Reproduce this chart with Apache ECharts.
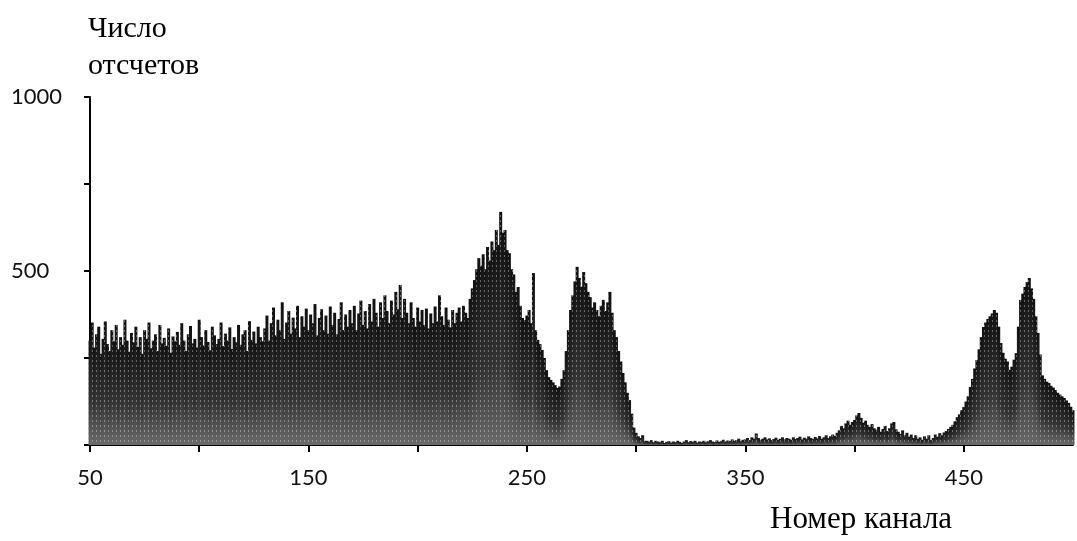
<!DOCTYPE html>
<html>
<head>
<meta charset="utf-8">
<script src="https://cdn.jsdelivr.net/npm/echarts@6/dist/echarts.min.js"></script>
<style>
  html, body { margin: 0; padding: 0; background: #fff; }
  #main { width: 1077px; height: 541px; }
</style>
</head>
<body>
<div id="main"></div>
<script>
// номер первого канала
const CH_START = 50;

// число отсчетов по каналам 50..500 (оценка по рисунку)
const counts = [
  300, 352, 280, 318, 340, 262, 305, 355, 290, 270, 330, 298, 345, 275, 310, 288, 360, 300, 268, 322, // 50
  295, 340, 282, 310, 262, 330, 305, 352, 278, 300, 318, 270, 345, 292, 308, 285, 335, 265, 312, 298, // 70
  325, 288, 350, 300, 270, 318, 342, 292, 305, 280, 360, 310, 286, 330, 296, 272, 340, 315, 290, 305, // 90
  352, 284, 320, 300, 338, 276, 310, 295, 345, 288, 318, 330, 270, 356, 302, 326, 292, 340, 310, 298, // 110
  335, 372, 300, 350, 395, 315, 360, 330, 410, 305, 352, 385, 320, 366, 335, 400, 310, 370, 340, 392, // 130
  330, 375, 350, 405, 315, 365, 390, 330, 372, 320, 398, 345, 380, 318, 362, 410, 330, 375, 340, 388, // 150
  350, 400, 330, 378, 415, 345, 385, 335, 405, 355, 420, 380, 340, 410, 365, 430, 385, 350, 415, 375, // 170
  440, 390, 460, 365, 420, 380, 350, 410, 365, 340, 395, 355, 388, 345, 392, 335, 378, 350, 398, 355, // 190
  430, 370, 345, 395, 360, 338, 388, 350, 380, 395, 355, 400, 380, 365, 420, 450, 474, 505, 537, 515, // 210
  548, 505, 569, 530, 585, 560, 618, 575, 670, 610, 618, 560, 551, 505, 490, 440, 454, 400, 365, 359, // 230
  372, 388, 350, 494, 330, 302, 290, 273, 250, 215, 195, 187, 180, 172, 164, 168, 190, 215, 270, 330, // 250
  388, 430, 470, 512, 480, 455, 497, 465, 440, 425, 395, 410, 388, 370, 400, 417, 385, 410, 440, 380, // 270
  330, 310, 270, 240, 207, 180, 150, 129, 90, 50, 35, 25, 20, 28, 12, 12, 10, 14, 8, 12,              // 290
  10, 8, 12, 6, 9, 11, 7, 10, 8, 12, 9, 6, 10, 14, 8, 11, 9, 12, 7, 10,                              // 310
  9, 12, 8, 11, 14, 10, 8, 13, 9, 12, 15, 10, 13, 11, 16, 12, 14, 18, 12, 15,                        // 330
  16, 20, 14, 22, 18, 33, 20, 15, 18, 22, 16, 19, 14, 17, 21, 15, 18, 22, 16, 20,                    // 350
  18, 15, 22, 17, 20, 24, 16, 21, 18, 25, 20, 17, 23, 19, 26, 18, 22, 28, 20, 25,                    // 370
  30, 26, 35, 42, 55, 48, 62, 70, 58, 66, 72, 85, 92, 78, 64, 70, 58, 52, 60, 48,                    // 390
  44, 52, 38, 46, 55, 40, 48, 62, 66, 45, 38, 32, 42, 28, 35, 24, 30, 20, 28, 18,                    // 410
  22, 15, 25, 18, 28, 14, 20, 30, 24, 34, 28, 36, 40, 46, 52, 58, 68, 80, 88, 100,                   // 430
  109, 125, 140, 167, 190, 220, 244, 275, 310, 339, 352, 362, 370, 378, 388, 380, 340, 293, 265, 248, // 450
  240, 216, 225, 245, 264, 340, 417, 435, 454, 468, 480, 450, 420, 370, 322, 260, 200, 190, 182, 178, // 470
  170, 165, 158, 150, 145, 140, 135, 128, 121, 110, 100                                              // 490
];
const channels = counts.map((v, i) => CH_START + i);

// подписи делений
const xTickLabels = [50, 150, 250, 350, 450];
const yTickLabels = [500, 1000];

const chart = echarts.init(document.getElementById("main"));

const labelFont = {
  color: "#111",
  fontFamily: "Lato",
  fontWeight: "normal",
  fontSize: 22,
};

const option = {
  backgroundColor: "#fff",
  animation: false,
  grid: { left: 90, right: 4, top: 97, bottom: 96 },
  xAxis: {
    type: "value",
    min: 50,
    max: 500,
    interval: 50,
    splitLine: { show: false },
    axisLine: { lineStyle: { color: "#000", width: 2 } },
    axisTick: { length: 7, lineStyle: { color: "#000", width: 2 } },
    axisLabel: {
      ...labelFont,
      margin: 22,
      showMaxLabel: false,
      formatter: (v) => (xTickLabels.indexOf(v) >= 0 ? String(v) : ""),
    },
  },
  yAxis: {
    type: "value",
    min: 0,
    max: 1000,
    interval: 250,
    splitLine: { show: false },
    axisLine: { show: true, lineStyle: { color: "#000", width: 2 } },
    axisTick: { show: true, length: 6, lineStyle: { color: "#000", width: 2 } },
    axisLabel: {
      ...labelFont,
      align: "left",
      margin: 79,
      formatter: (v) => (yTickLabels.indexOf(v) >= 0 ? String(v) : ""),
    },
  },
  graphic: [
    {
      type: "text",
      left: 88,
      top: 14,
      style: { text: "Число", font: "30px 'Liberation Serif'", fill: "#000" },
    },
    {
      type: "text",
      left: 88,
      top: 51,
      style: { text: "отсчетов", font: "30px 'Liberation Serif'", fill: "#000" },
    },
    {
      type: "text",
      left: 770,
      top: 504,
      style: { text: "Номер канала", font: "31px 'Liberation Serif'", fill: "#000" },
    },
  ],
  series: [
    {
      type: "bar",
      barWidth: 3,
      data: channels.map((c, i) => [c, counts[i]]),
      itemStyle: {
        color: new echarts.graphic.LinearGradient(0, 0, 0, 1, [
          { offset: 0, color: "#111" },
          { offset: 0.6, color: "#333" },
          { offset: 1, color: "#6a6a6a" },
        ]),
        decal: {
          symbol: "rect",
          symbolSize: 1,
          color: "rgba(255,255,255,0.35)",
          dashArrayX: [1, 3],
          dashArrayY: [2, 3],
          rotation: 0,
        },
      },
    },
  ],
};

chart.setOption(option);
</script>
</body>
</html>
